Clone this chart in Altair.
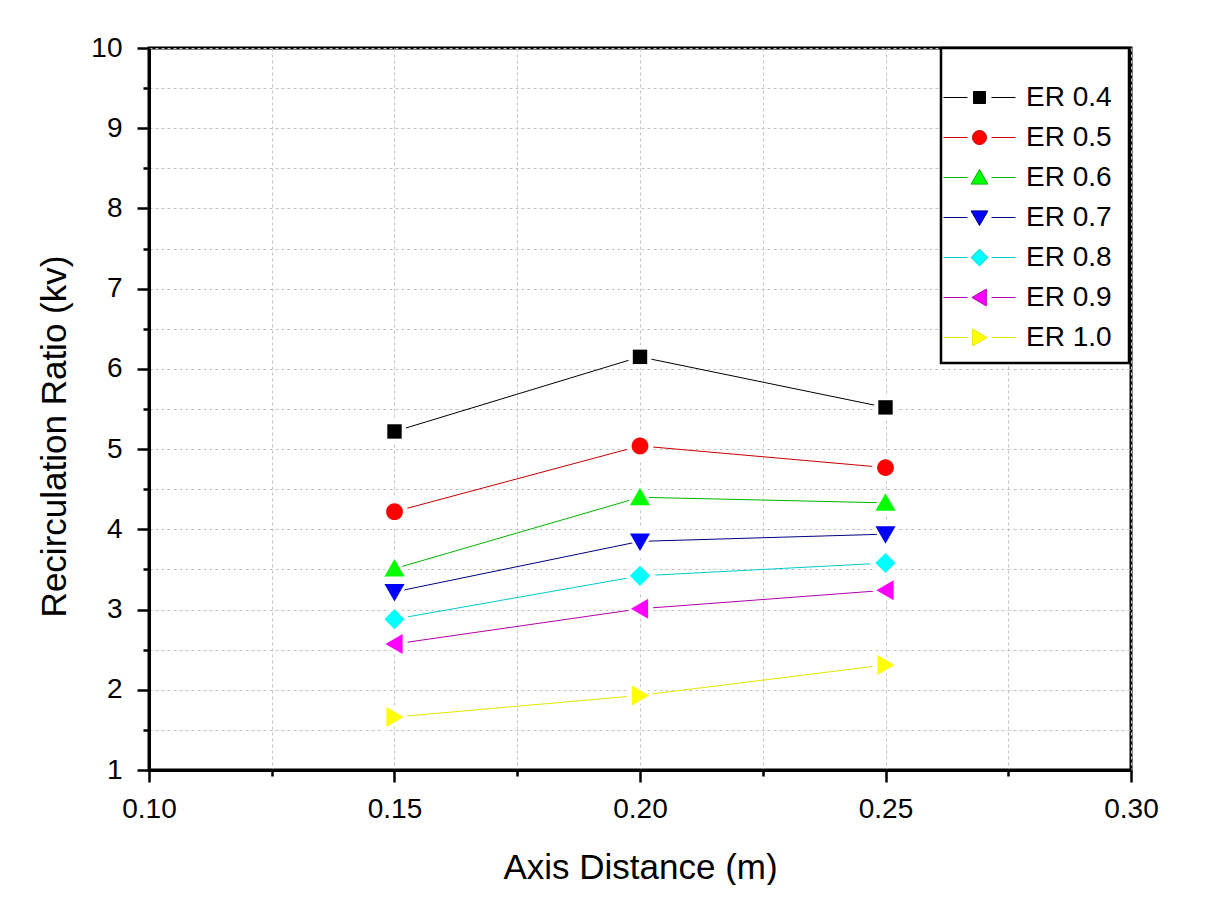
import altair as alt
import pandas as pd

# ---- data ----
axis_distance = [0.15, 0.20, 0.25]
series_names = ["ER 0.4", "ER 0.5", "ER 0.6", "ER 0.7", "ER 0.8", "ER 0.9", "ER 1.0"]
er_04 = [5.22, 6.15, 5.52]
er_05 = [4.22, 5.04, 4.77]
er_06 = [3.51, 4.40, 4.33]
er_07 = [3.22, 3.85, 3.94]
er_08 = [2.88, 3.42, 3.58]
er_09 = [2.57, 3.01, 3.24]
er_10 = [1.66, 1.93, 2.31]
x_tick_values = [0.10, 0.125, 0.15, 0.175, 0.20, 0.225, 0.25, 0.275, 0.30]
y_tick_values = [1, 1.5, 2, 2.5, 3, 3.5, 4, 4.5, 5, 5.5, 6, 6.5, 7, 7.5, 8, 8.5, 9, 9.5, 10]

series_values = [er_04, er_05, er_06, er_07, er_08, er_09, er_10]
rows = []
for name, vals in zip(series_names, series_values):
    for xv, yv in zip(axis_distance, vals):
        rows.append({"x": xv, "kv": yv, "ER": name})
df = pd.DataFrame(rows)

# ---- styles ----
FONT = "Liberation Sans"
marker_colors = ["#000000", "#ff0000", "#00ff00", "#0000ff", "#00ffff", "#ff00ff", "#ffff00"]
line_colors = ["#000000", "#c80000", "#00b400", "#000080", "#00cccc", "#b000b0", "#e6e600"]
# marker shapes as small custom paths (unit box is [-1,1])
shape_paths = [
    "M-0.3,-0.3H0.3V0.3H-0.3Z",
    "M-0.35,0A0.35,0.35,0,1,0,0.35,0A0.35,0.35,0,1,0,-0.35,0Z",
    "M0,-0.4L0.42,0.33L-0.42,0.33Z",
    "M0,0.4L0.42,-0.33L-0.42,-0.33Z",
    "M0,-0.42L0.42,0L0,0.42L-0.42,0Z",
    "M-0.38,0L0.34,-0.42L0.34,0.42Z",
    "M0.38,0L-0.34,-0.42L-0.34,0.42Z",
]
legend_segments = "M-1.8,0H-0.6M0.6,0H1.8"
ROW_STEP = 40

common_legend = dict(
    title=" ",
    titleFontSize=11,
    titlePadding=0,
    orient="none",
    legendX=792,
    padding=18,
    rowPadding=ROW_STEP - 35,
    symbolSize=1600,
    labelOffset=26,
    labelFont=FONT,
    labelFontSize=28,
    labelLimit=300,
)

# legend that only draws the white box with its black border (labels hidden)
box_legend = alt.Legend(
    legendY=0,
    symbolType=legend_segments,
    symbolStrokeWidth=0,
    labelColor="black",
    labelOpacity=0,
    fillColor="white",
    strokeColor="black",
    zindex=1,
    **common_legend,
)

x_major_test = "round(datum.value*1000) % 50 === 0"
y_major_test = "datum.value % 1 === 0"

x_axis = alt.Axis(
    values=x_tick_values,
    labelExpr=f"{x_major_test} ? format(datum.value, '.2f') : ''",
    title="Axis Distance (m)",
    titleFont=FONT, titleFontSize=35, titleFontWeight="normal", titleColor="black",
    titlePadding=27,
    labelFont=FONT, labelFontSize=28, labelColor="black", labelPadding=13,
    labelFlush=False, labelOverlap=False,
    tickSize={"condition": {"test": x_major_test, "value": 12}, "value": 6},
    tickWidth=2.5, tickColor="black",
    domainColor="black", domainWidth=3,
    grid=True, gridDash=[3, 3], gridColor="#c4c4c4", gridWidth=1,
)
y_axis = alt.Axis(
    values=y_tick_values,
    labelExpr=f"{y_major_test} ? format(datum.value, '.0f') : ''",
    title="Recirculation Ratio (kv)",
    titleFont=FONT, titleFontSize=35, titleFontWeight="normal", titleColor="black",
    titlePadding=18,
    titleY=388,
    labelFont=FONT, labelFontSize=28, labelColor="black", labelPadding=15,
    labelFlush=False, labelOverlap=False,
    tickSize={"condition": {"test": y_major_test, "value": 12}, "value": 6},
    tickWidth=2.5, tickColor="black",
    domainColor="black", domainWidth=3,
    grid=True, gridDash=[3, 3], gridColor="#c4c4c4", gridWidth=1,
)

x_enc = alt.X("x:Q", scale=alt.Scale(domain=[0.10, 0.30], nice=False, zero=False), axis=x_axis)
y_enc = alt.Y("kv:Q", scale=alt.Scale(domain=[1, 10], nice=False, zero=False), axis=y_axis)

shape_scale = alt.Scale(domain=series_names, range=shape_paths)

base = alt.Chart(df)

lines = base.mark_line(strokeWidth=1).encode(
    x=x_enc, y=y_enc,
    stroke=alt.Stroke("ER:N", scale=alt.Scale(domain=series_names, range=line_colors), legend=box_legend),
    detail="ER:N",
)

halos = base.mark_point(filled=True, opacity=1, size=5800, fill="white").encode(
    x=x_enc, y=y_enc,
    shape=alt.Shape("ER:N", scale=shape_scale, legend=None),
)

markers = base.mark_point(filled=True, opacity=1, size=2300, strokeWidth=0).encode(
    x=x_enc, y=y_enc,
    shape=alt.Shape("ER:N", scale=shape_scale, legend=None),
    color=alt.Color("ER:N", scale=alt.Scale(domain=series_names, range=marker_colors), legend=None),
)

# one single-entry legend per series: line segments + marker, and its label
legend_layers = []
for i, (name, col, lcol, shp) in enumerate(zip(series_names, marker_colors, line_colors, shape_paths)):
    lg = alt.Legend(
        legendY=i * ROW_STEP,
        symbolOpacity=1,
        symbolStrokeWidth=1,
        symbolStrokeColor=lcol,
        labelColor="black",
        zindex=2,
        **common_legend,
    )
    legend_layers.append(
        base.transform_filter("false").mark_point(
            filled=True, opacity=1, shape=legend_segments + shp, stroke=lcol, strokeWidth=1
        ).encode(
            x=x_enc, y=y_enc,
            color=alt.Color("ER:N", scale=alt.Scale(domain=[name], range=[col]), legend=lg),
        )
    )

chart = alt.layer(lines, halos, markers, *legend_layers).resolve_scale(color="independent").properties(
    width=982,
    height=722,
    autosize=alt.AutoSizeParams(type="none"),
    padding={"left": 141, "top": 40, "right": 60, "bottom": 115},
    background="white",
).configure_view(stroke="black", strokeWidth=3).configure_legend(strokeWidth=2.5)

chart.save("out.html", embed_options={"renderer": "svg", "actions": False})
